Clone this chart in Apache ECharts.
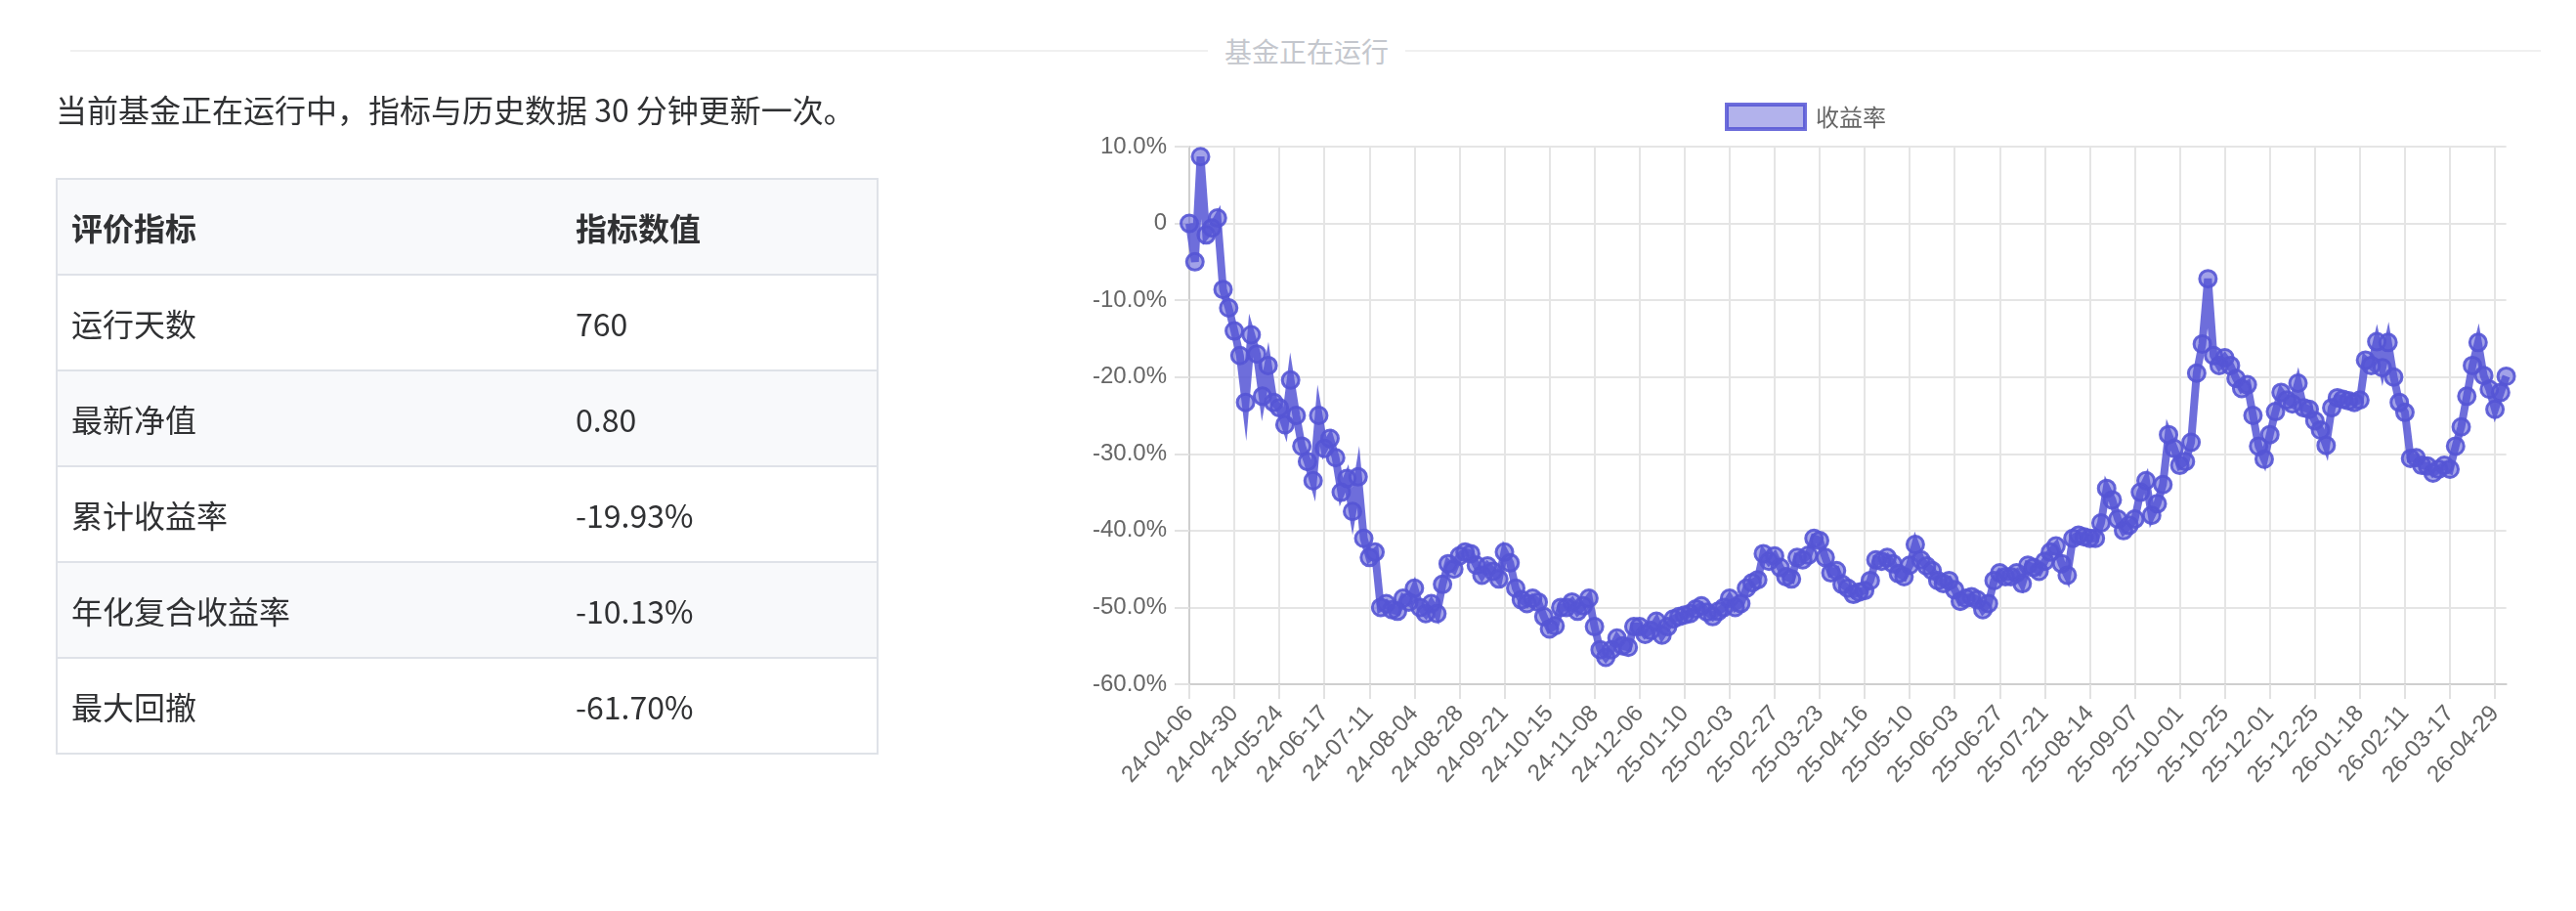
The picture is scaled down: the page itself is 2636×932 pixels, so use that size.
<!DOCTYPE html>
<html>
<head>
<meta charset="utf-8">
<script src="https://cdn.jsdelivr.net/npm/echarts@6/dist/echarts.min.js"></script>
<style>
html,body{margin:0;padding:0;background:#fff;width:2636px;height:932px;overflow:hidden;font-family:"Noto Sans CJK SC","Noto Sans",sans-serif;}
#chart{position:absolute;left:0;top:0;width:2636px;height:932px;}
.divider{position:absolute;left:72px;top:51px;width:2528px;height:2px;background:#f0f0f0;}
.divtext{position:absolute;left:1236px;top:32px;width:202px;text-align:center;background:#fff;color:#c4c7cd;font-size:28px;line-height:40px;}
.intro{position:absolute;left:57px;top:89px;font-size:32px;color:#303133;line-height:44px;white-space:nowrap;}
.tbl{position:absolute;left:57px;top:182px;width:842px;height:590px;box-sizing:border-box;border:2px solid #dfe2e8;}
.row{box-sizing:border-box;height:98px;border-bottom:2px solid #dfe2e8;display:flex;align-items:center;font-size:32px;color:#303133;}
.row.last{height:96px;border-bottom:none;}
.row.alt{background:#f8f9fb;}
.row.head{background:#f8f9fb;font-weight:700;}
.c1{width:516px;padding-left:14px;box-sizing:border-box;}
.c2{padding-left:14px;}
</style>
</head>
<body>
<div id="chart"></div>
<div class="divider"></div>
<div class="divtext">基金正在运行</div>
<div class="intro">当前基金正在运行中，指标与历史数据 30 分钟更新一次。</div>
<div class="tbl" id="tbl"></div>
<script>
// ---- table data ----
const metricNames = ['运行天数', '最新净值', '累计收益率', '年化复合收益率', '最大回撤'];
const metricValues = ['760', '0.80', '-19.93%', '-10.13%', '-61.70%'];
const tableHeader = ['评价指标', '指标数值'];

// ---- chart data ----
const seriesName = '收益率';
const categories = [
'24-04-06','24-04-09','24-04-12','24-04-15','24-04-18','24-04-21','24-04-24','24-04-27',
'24-04-30','24-05-03','24-05-06','24-05-09','24-05-12','24-05-15','24-05-18','24-05-21',
'24-05-24','24-05-27','24-05-30','24-06-02','24-06-05','24-06-08','24-06-11','24-06-14',
'24-06-17','24-06-20','24-06-23','24-06-26','24-06-29','24-07-02','24-07-05','24-07-08',
'24-07-11','24-07-14','24-07-17','24-07-20','24-07-23','24-07-26','24-07-29','24-08-01',
'24-08-04','24-08-07','24-08-10','24-08-13','24-08-16','24-08-19','24-08-22','24-08-25',
'24-08-28','24-08-31','24-09-03','24-09-06','24-09-09','24-09-12','24-09-15','24-09-18',
'24-09-21','24-09-24','24-09-27','24-09-30','24-10-03','24-10-06','24-10-09','24-10-12',
'24-10-15','24-10-18','24-10-21','24-10-24','24-10-27','24-10-30','24-11-02','24-11-05',
'24-11-08','24-11-11','24-11-14','24-11-17','24-11-20','24-11-24','24-11-28','24-12-02',
'24-12-06','24-12-10','24-12-14','24-12-18','24-12-22','24-12-26','24-12-30','25-01-05',
'25-01-10','25-01-13','25-01-16','25-01-19','25-01-22','25-01-25','25-01-28','25-01-31',
'25-02-03','25-02-06','25-02-09','25-02-12','25-02-15','25-02-18','25-02-21','25-02-24',
'25-02-27','25-03-02','25-03-05','25-03-08','25-03-11','25-03-14','25-03-17','25-03-20',
'25-03-23','25-03-26','25-03-29','25-04-01','25-04-04','25-04-07','25-04-10','25-04-13',
'25-04-16','25-04-19','25-04-22','25-04-25','25-04-28','25-05-01','25-05-04','25-05-07',
'25-05-10','25-05-13','25-05-16','25-05-19','25-05-22','25-05-25','25-05-28','25-05-31',
'25-06-03','25-06-06','25-06-09','25-06-12','25-06-15','25-06-18','25-06-21','25-06-24',
'25-06-27','25-06-30','25-07-03','25-07-06','25-07-09','25-07-12','25-07-15','25-07-18',
'25-07-21','25-07-24','25-07-27','25-07-30','25-08-02','25-08-05','25-08-08','25-08-11',
'25-08-14','25-08-17','25-08-20','25-08-23','25-08-26','25-08-29','25-09-01','25-09-04',
'25-09-07','25-09-10','25-09-13','25-09-16','25-09-19','25-09-22','25-09-25','25-09-28',
'25-10-01','25-10-04','25-10-07','25-10-10','25-10-13','25-10-16','25-10-19','25-10-22',
'25-10-25','25-10-30','25-11-04','25-11-09','25-11-14','25-11-18','25-11-22','25-11-26',
'25-12-01','25-12-04','25-12-07','25-12-10','25-12-13','25-12-16','25-12-19','25-12-22',
'25-12-25','25-12-28','25-12-31','26-01-03','26-01-06','26-01-09','26-01-12','26-01-15',
'26-01-18','26-01-21','26-01-24','26-01-27','26-01-30','26-02-02','26-02-05','26-02-08',
'26-02-11','26-02-15','26-02-19','26-02-23','26-02-27','26-03-04','26-03-09','26-03-13',
'26-03-17','26-03-22','26-03-27','26-04-01','26-04-06','26-04-12','26-04-18','26-04-24',
'26-04-29','26-05-02','26-05-05'
];
const returnRate = [
0.0, -5.0, 8.7, -1.5, -0.6, 0.7, -8.6, -11.0,
-14.0, -17.2, -23.3, -14.5, -17.0, -22.5, -18.5, -23.3,
-24.0, -26.2, -20.4, -25.0, -29.0, -31.0, -33.5, -25.0,
-29.3, -28.0, -30.5, -35.0, -33.2, -37.5, -33.0, -41.0,
-43.5, -42.8, -50.0, -49.5, -50.3, -50.5, -48.8, -49.3,
-47.5, -50.0, -50.8, -49.5, -50.8, -47.0, -44.3, -45.0,
-43.3, -42.8, -43.0, -44.5, -45.8, -44.6, -45.3, -46.3,
-42.8, -44.2, -47.5, -49.0, -49.5, -48.8, -49.3, -51.2,
-52.8, -52.4, -50.0, -50.0, -49.3, -50.5, -49.8, -48.8,
-52.5, -55.5, -56.5, -55.5, -54.0, -55.0, -55.2, -52.5,
-52.5, -53.5, -53.0, -51.8, -53.6, -52.5, -51.5, -51.2,
-51.0, -50.8, -50.2, -49.8, -50.6, -51.2, -50.5, -50.0,
-48.8, -50.0, -49.5, -47.5, -46.8, -46.4, -43.0, -44.0,
-43.3, -44.8, -46.0, -46.3, -43.5, -43.8, -43.2, -41.0,
-41.3, -43.5, -45.5, -45.2, -47.0, -47.5, -48.3, -48.0,
-47.8, -46.5, -43.8, -44.0, -43.5, -44.3, -45.6, -46.0,
-44.5, -41.8, -43.8, -44.6, -45.2, -46.5, -46.9, -46.5,
-47.7, -49.2, -48.8, -48.6, -49.0, -50.3, -49.5, -46.5,
-45.5, -46.0, -46.0, -45.5, -46.9, -44.5, -44.8, -45.3,
-44.0, -42.8, -42.0, -44.3, -45.8, -41.0, -40.6, -40.8,
-41.0, -41.0, -39.0, -34.5, -36.0, -38.5, -40.0, -39.3,
-38.5, -35.0, -33.5, -38.0, -36.5, -34.0, -27.5, -29.3,
-31.5, -31.0, -28.5, -19.5, -15.7, -7.2, -17.2, -18.5,
-17.5, -18.5, -20.2, -21.5, -21.0, -25.0, -29.0, -30.7,
-27.5, -24.5, -22.0, -23.0, -23.5, -20.8, -24.0, -24.2,
-25.7, -26.9, -28.9, -24.0, -22.7, -22.9, -23.1, -23.3,
-23.0, -17.8, -18.5, -15.4, -18.8, -15.5, -20.0, -23.3,
-24.6, -30.6, -30.5, -31.5, -31.6, -32.5, -32.0, -31.5,
-32.0, -29.0, -26.5, -22.5, -18.5, -15.5, -19.8, -21.6,
-24.2, -22.0, -19.9
];

// ---- build table ----
(function(){
  const tbl = document.getElementById('tbl');
  let html = '<div class="row head"><div class="c1">' + tableHeader[0] + '</div><div class="c2">' + tableHeader[1] + '</div></div>';
  metricNames.forEach(function(n, i){
    let cls = 'row';
    if (i % 2 === 1) cls += ' alt';
    if (i === metricNames.length - 1) cls += ' last';
    html += '<div class="' + cls + '"><div class="c1">' + n + '</div><div class="c2">' + metricValues[i] + '</div></div>';
  });
  tbl.innerHTML = html;
})();

// ---- chart ----
const base = '85,85,213';
const chart = echarts.init(document.getElementById('chart'), null, {renderer: 'canvas'});
const fontFam = '"Liberation Sans", Arial, Helvetica, sans-serif';
chart.setOption({
  animation: false,
  backgroundColor: 'transparent',
  textStyle: {fontFamily: fontFam},
  legend: {
    left: 1760, top: 100,
    itemWidth: 80, itemHeight: 25, itemGap: 10,
    data: [{name: seriesName, icon: 'rect'}],
    itemStyle: {color: 'rgba(' + base + ',0.45)', borderColor: 'rgba(' + base + ',0.85)', borderWidth: 4},
    textStyle: {fontSize: 24, color: '#666', fontFamily: '"Noto Sans CJK SC", sans-serif', padding: [0, 0, 0, 6]}
  },
  grid: {left: 1217, top: 150, width: 1347.6, height: 550, containLabel: false},
  xAxis: {
    type: 'category',
    data: categories,
    boundaryGap: false,
    axisLine: {show: true, onZero: false, lineStyle: {color: '#cfcfcf', width: 2}},
    axisTick: {show: true, interval: 7, length: 15, lineStyle: {color: '#e2e2e2', width: 2}},
    splitLine: {show: true, interval: 7, lineStyle: {color: '#e5e5e5', width: 2}},
    axisLabel: {interval: 7, rotate: 48, margin: 26, fontSize: 24, color: '#666', fontFamily: fontFam}
  },
  yAxis: {
    type: 'value',
    min: -60, max: 10, interval: 10,
    axisLine: {show: true, lineStyle: {color: '#cfcfcf', width: 2}},
    axisTick: {show: true, length: 15, lineStyle: {color: '#e2e2e2', width: 2}},
    splitLine: {show: true, lineStyle: {color: '#e5e5e5', width: 2}},
    axisLabel: {
      margin: 23, fontSize: 24, color: '#666', fontFamily: fontFam,
      formatter: function(v){ return v === 0 ? '0' : v.toFixed(1) + '%'; }
    }
  },
  series: [{
    name: seriesName,
    type: 'line',
    data: returnRate,
    showAllSymbol: true,
    symbol: 'circle',
    symbolSize: 17,
    lineStyle: {color: 'rgba(' + base + ',0.85)', width: 8, join: 'miter', miterLimit: 10},
    itemStyle: {color: 'rgba(' + base + ',0.55)', borderColor: 'rgba(' + base + ',0.9)', borderWidth: 3},
    emphasis: {disabled: true}
  }]
});
</script>
</body>
</html>
